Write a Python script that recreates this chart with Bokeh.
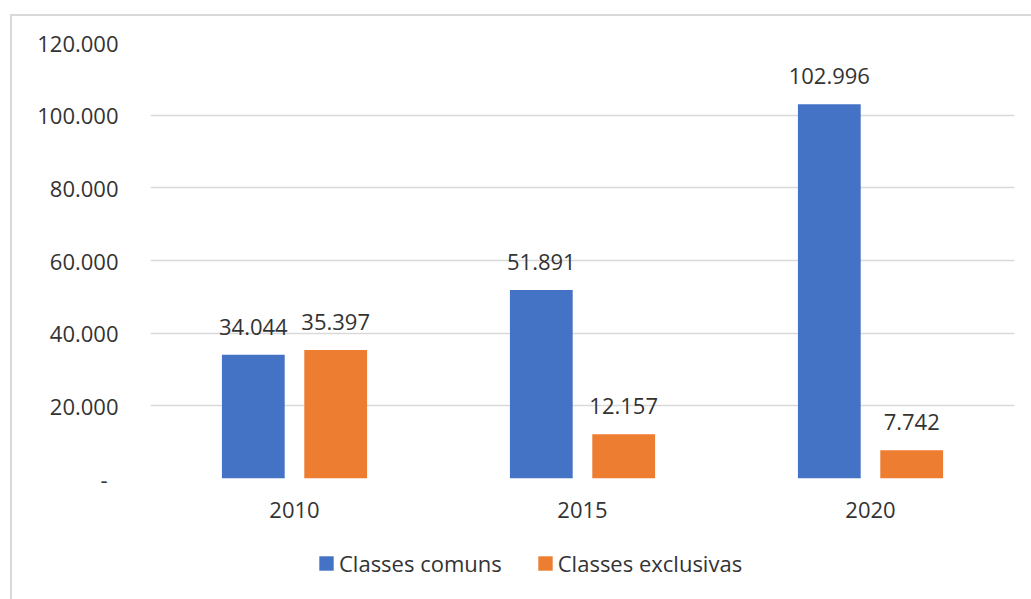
from bokeh.plotting import figure
from bokeh.layouts import column
from bokeh.models import ColumnDataSource, FactorRange, Range1d, FixedTicker, Legend, LegendItem
from bokeh.transform import dodge
from bokeh.core.properties import value
from bokeh.embed import file_html
from bokeh.resources import INLINE

years = ["2010", "2015", "2020"]
comuns = [34044, 51891, 102996]
exclusivas = [35397, 12157, 7742]
series_names = ["Classes comuns", "Classes exclusivas"]
y_ticks = [0, 20000, 40000, 60000, 80000, 100000, 120000]

FONT = "Open Sans"
FSIZE = "22px"
TCOLOR = "#333333"
BLUE = "#4472C4"
ORANGE = "#ED7D31"
W = 1019
H1 = 530
H2 = 53
TOP = 26
FRAME_H = 436


def fmt(v):
    return f"{v:,}".replace(",", ".")


src = ColumnDataSource(dict(
    year=years,
    comuns=comuns,
    exclusivas=exclusivas,
    comuns_lbl=[fmt(v) for v in comuns],
    excl_lbl=[fmt(v) for v in exclusivas],
))

p = figure(
    x_range=FactorRange(*years, range_padding=0),
    y_range=Range1d(0, 120000),
    width=W, height=H1,
    output_backend="svg", toolbar_location=None,
    min_border_left=138, min_border_right=17,
    min_border_top=TOP, min_border_bottom=H1 - TOP - FRAME_H,
)
p.outline_line_color = None
p.background_fill_color = "white"
p.border_fill_color = "white"

off = 0.143
bw = 0.218
p.vbar(x=dodge("year", -off, range=p.x_range), top="comuns", width=bw,
       source=src, fill_color=BLUE, line_color=None)
p.vbar(x=dodge("year", off, range=p.x_range), top="exclusivas", width=bw,
       source=src, fill_color=ORANGE, line_color=None)

for col, lbl, o in (("comuns", "comuns_lbl", -off), ("exclusivas", "excl_lbl", off)):
    p.text(x=dodge("year", o, range=p.x_range), y=col, text=lbl, source=src,
           text_align="center", text_baseline="alphabetic", y_offset=-28,
           text_font=value(FONT), text_font_size=FSIZE, text_color=TCOLOR)

p.xgrid.visible = False
p.ygrid.grid_line_color = "#d9d9d9"
p.ygrid.grid_line_width = 1.5

p.yaxis.ticker = FixedTicker(ticks=y_ticks)
p.yaxis.major_label_overrides = {t: (fmt(t) if t else "-\u2002") for t in y_ticks}
for ax in (p.xaxis, p.yaxis):
    ax.axis_line_color = None
    ax.major_tick_line_color = None
    ax.minor_tick_line_color = None
    ax.major_tick_out = 0
    ax.major_tick_in = 0
    ax.major_label_text_font = FONT
    ax.major_label_text_font_size = FSIZE
    ax.major_label_text_color = TCOLOR
p.yaxis.major_label_standoff = 32
p.xaxis.major_label_standoff = 23

# legend strip underneath the chart (its frame is aligned with the chart frame)
lg = figure(width=W, height=H2, output_backend="svg", toolbar_location=None,
            x_range=Range1d(0, 1), y_range=Range1d(0, 1),
            x_axis_location=None, y_axis_location=None, min_border=0)
lg.grid.visible = False
lg.outline_line_color = None
lg.background_fill_color = "white"
lg.border_fill_color = "white"
k1 = lg.vbar(x=[0.5], top=[0], bottom=[0], width=0.1, fill_color=BLUE, line_color=None)
k2 = lg.vbar(x=[0.5], top=[0], bottom=[0], width=0.1, fill_color=ORANGE, line_color=None)

legend = Legend(
    items=[LegendItem(label=series_names[0], renderers=[k1]),
           LegendItem(label=series_names[1], renderers=[k2])],
    orientation="horizontal", location=(167, 21),
    glyph_width=18, glyph_height=18, label_standoff=4, spacing=34,
    padding=4, margin=0, border_line_color=None, background_fill_alpha=0,
    label_text_font=FONT, label_text_font_size=FSIZE, label_text_color=TCOLOR,
)
lg.add_layout(legend, "center")

layout = column(p, lg, spacing=0)
layout.margin = (14, 0, 0, 10)
layout.styles = {"border-top": "2px solid #d9d9d9", "border-left": "2px solid #d9d9d9"}

open("out.html", "w").write(file_html(layout, INLINE))
